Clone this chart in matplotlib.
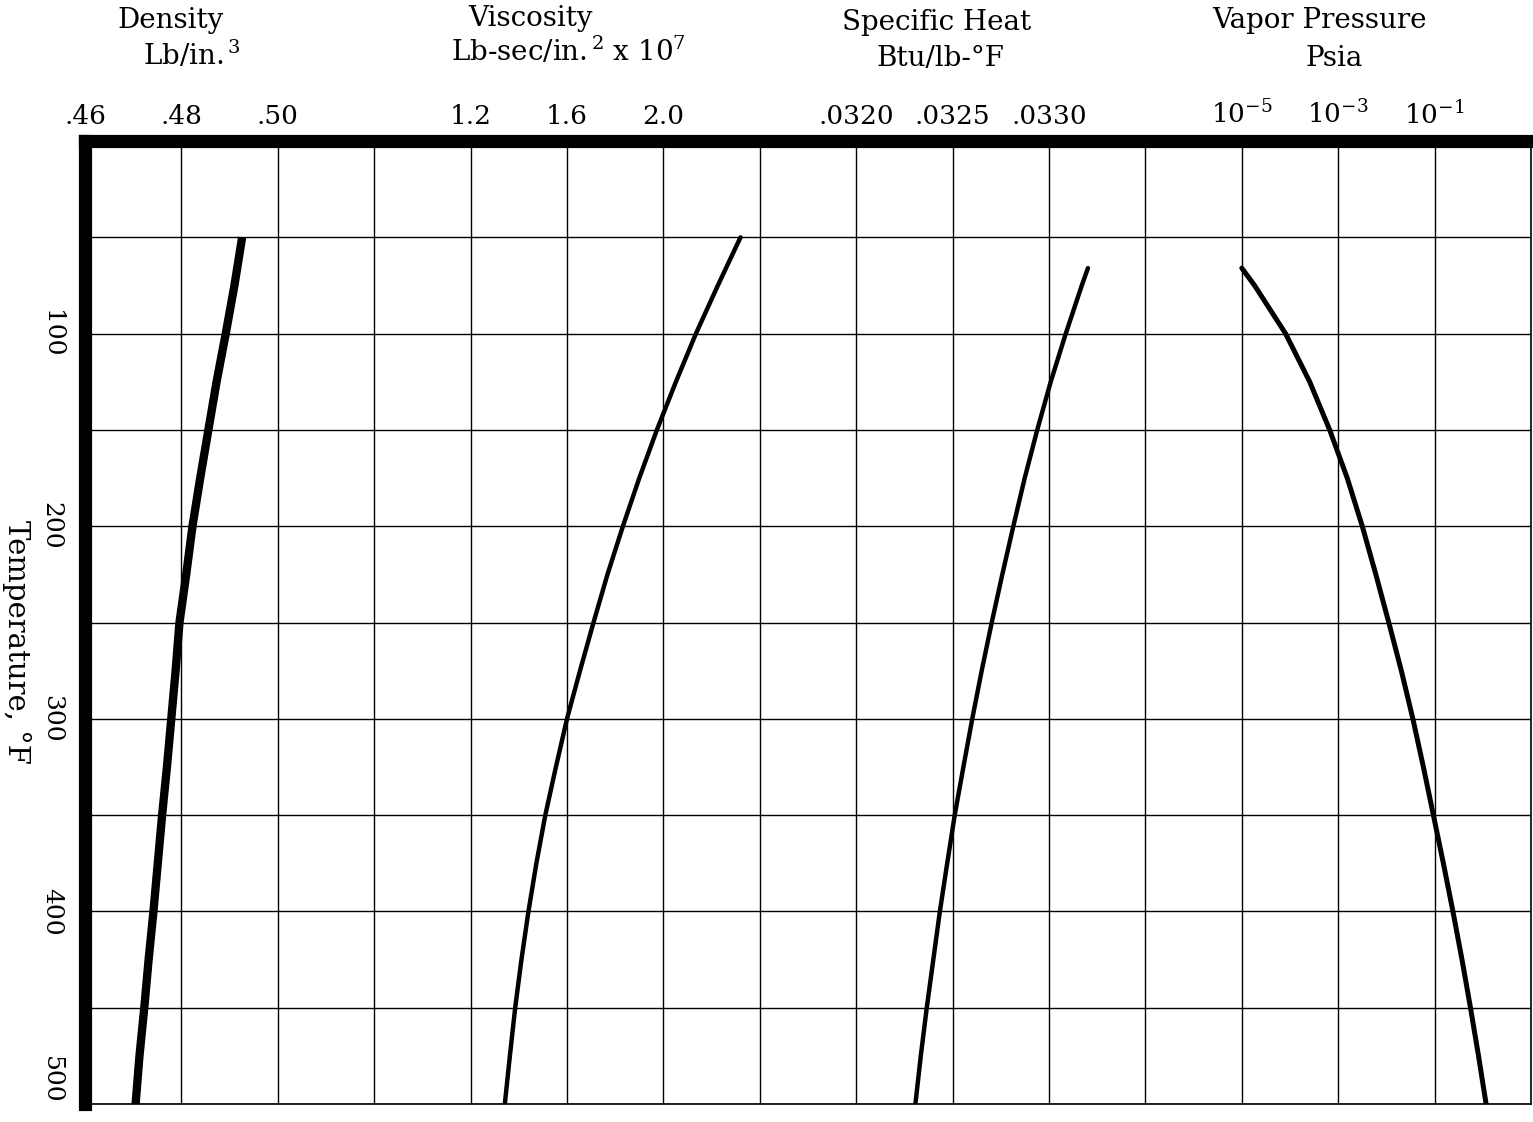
import numpy as np
import matplotlib
matplotlib.use("Agg")
import matplotlib.pyplot as plt
from matplotlib.ticker import NullLocator

plt.rcParams["font.family"] = ["DejaVu Serif"]
plt.rcParams["mathtext.fontset"] = "dejavuserif"

# ---- property data vs. temperature (deg F) ----
temp_density = [50, 75, 100, 125, 150, 175, 200, 225, 250, 275,
                300, 325, 350, 375, 400, 425, 450, 475, 500]
density = [0.4926, 0.4910, 0.4892, 0.4873, 0.4856, 0.4839, 0.4823, 0.4810, 0.4796, 0.4788,
           0.4779, 0.4770, 0.4760, 0.4751, 0.4742, 0.4732, 0.4723, 0.4713, 0.4705]

temp_viscosity = [50, 75, 100, 125, 150, 175, 200, 225, 250, 275,
                  300, 325, 350, 375, 400, 425, 450, 475, 500]
viscosity = [2.320, 2.226, 2.135, 2.052, 1.973, 1.900, 1.832, 1.768, 1.710, 1.654,
             1.600, 1.554, 1.510, 1.473, 1.440, 1.411, 1.385, 1.363, 1.342]

temp_cp = [66, 75, 100, 125, 150, 175, 200, 225, 250, 275,
           300, 325, 350, 375, 400, 425, 450, 475, 500]
specific_heat = [0.033202, 0.033170, 0.033087, 0.033009, 0.032939, 0.032874, 0.032815,
                 0.032758, 0.032703, 0.032651, 0.032602, 0.032556, 0.032511, 0.032472,
                 0.032434, 0.032400, 0.032366, 0.032335, 0.032307]

temp_vp = [66, 75, 100, 125, 150, 175, 200, 225, 250, 275,
           300, 325, 350, 375, 400, 425, 450, 475, 500]
vapor_pressure = [1.00e-5, 1.84e-5, 8.09e-5, 2.56e-4, 6.65e-4, 1.54e-3, 3.16e-3, 6.03e-3,
                  1.12e-2, 2.04e-2, 3.54e-2, 5.85e-2, 9.44e-2, 0.152, 0.240, 0.370,
                  0.555, 0.815, 1.17]

# ---- axis tick values / labels ----
density_ticks = [0.46, 0.48, 0.50]
density_labels = [".46", ".48", ".50"]
viscosity_ticks = [1.2, 1.6, 2.0]
viscosity_labels = ["1.2", "1.6", "2.0"]
cp_ticks = [0.0320, 0.0325, 0.0330]
cp_labels = [".0320", ".0325", ".0330"]
vp_ticks = [1e-5, 1e-3, 1e-1]
vp_labels = [r"$10^{-5}$", r"$10^{-3}$", r"$10^{-1}$"]
temp_ticks = [100, 200, 300, 400, 500]
temp_labels = ["100", "200", "300", "400", "500"]

W, H = 1533, 1122
fig = plt.figure(figsize=(W / 100, H / 100), dpi=100)
fig.patch.set_facecolor("white")

left_px, right_px, top_px, bot_px = 85, 1531, 141, 1104
rect = [left_px / W, 1 - bot_px / H, (right_px - left_px) / W, (bot_px - top_px) / H]
ax = fig.add_axes(rect)

# Base grid: 15 columns, temperature 0-500 F increasing downward
ax.set_xlim(0, 15)
ax.set_ylim(500, 0)
ax.set_xticks(np.arange(1, 15))
ax.set_yticks(temp_ticks)
ax.set_yticklabels(temp_labels, rotation=-90, fontsize=18, va="center")
ax.set_yticks(np.arange(50, 500, 100), minor=True)
ax.tick_params(axis="x", length=0, labelbottom=False, labeltop=False)
ax.tick_params(axis="y", which="both", length=0, pad=16)
ax.yaxis.get_ticklabels()[-1].set_verticalalignment("bottom")
ax.grid(True, which="both", color="black", linewidth=1.0)
ax.set_axisbelow(True)
for side in ("top", "left"):
    ax.spines[side].set_linewidth(9.5)
for side in ("bottom", "right"):
    ax.spines[side].set_linewidth(1.2)


def overlay(xmin, xmax, ticks, labels, scale="linear"):
    t = ax.twiny()
    t.set_xscale(scale)
    t.set_xlim(xmin, xmax)
    t.set_ylim(500, 0)
    t.set_xticks(ticks)
    t.set_xticklabels(labels, fontsize=19)
    t.xaxis.set_minor_locator(NullLocator())
    t.tick_params(axis="x", length=0, pad=9)
    for s in t.spines.values():
        s.set_visible(False)
    t.patch.set_visible(False)
    return t


# Each property scale occupies part of the shared 15-column grid
ax_d = overlay(0.46, 0.46 + 15 * 0.02, density_ticks, density_labels)
ax_v = overlay(1.2 - 4 * 0.4, 1.2 + 11 * 0.4, viscosity_ticks, viscosity_labels)
ax_c = overlay(0.0320 - 8 * 0.0005, 0.0320 + 7 * 0.0005, cp_ticks, cp_labels)
ax_p = overlay(10.0 ** (-5 - 24), 10.0 ** (-5 + 6), vp_ticks, vp_labels, scale="log")

ax_d.plot(density, temp_density, color="black", linewidth=6, solid_capstyle="butt",
          solid_joinstyle="round")
ax_v.plot(viscosity, temp_viscosity, color="black", linewidth=3.2, solid_capstyle="round")
ax_c.plot(specific_heat, temp_cp, color="black", linewidth=3.2, solid_capstyle="round")
ax_p.plot(vapor_pressure, temp_vp, color="black", linewidth=3.6, solid_capstyle="round")


def ftext(x, y, s, size=20, **kw):
    fig.text(x / W, 1 - y / H, s, ha="center", va="center", fontsize=size, **kw)


ftext(171, 20, "Density")
ftext(192, 55, r"Lb/in.$^{\,3}$")
ftext(531, 18, "Viscosity")
ftext(568, 51, r"Lb-sec/in.$^{\,2}$ x 10$^{7}$")
ftext(937, 23, "Specific Heat")
ftext(940, 58, "Btu/lb-°F")
ftext(1320, 20, "Vapor Pressure")
ftext(1334, 58, "Psia")
ftext(17, 642, "Temperature, °F", size=21, rotation=-90)

fig.savefig("out.png", dpi=100, facecolor="white")
